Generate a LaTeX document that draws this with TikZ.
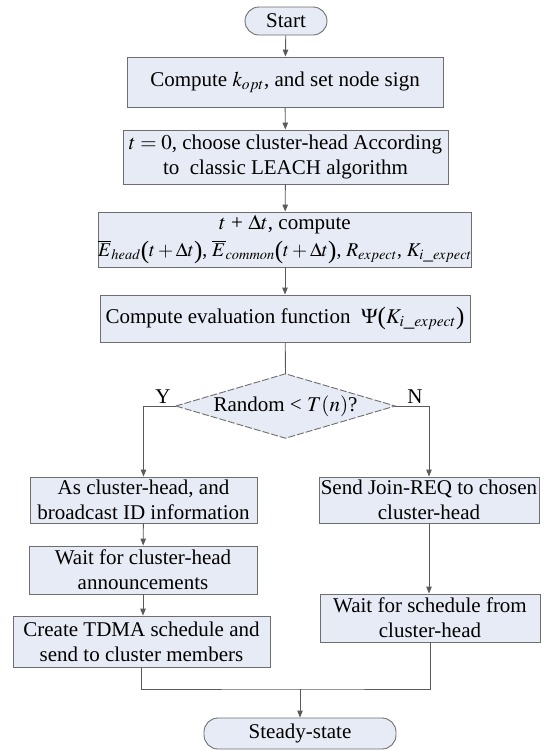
\documentclass[tikz,border=0pt]{standalone}
\usepackage{mathptmx}
\usepackage[no-math]{fontspec}
\setmainfont{Liberation Serif}
\usetikzlibrary{arrows.meta,backgrounds}

\definecolor{boxfill}{HTML}{E7EBF5}
\definecolor{boxedge}{HTML}{6E6E6E}
\definecolor{linecol}{HTML}{5A5A5A}

% taller parentheses taken from the text font
\newcommand{\tallL}{\mbox{\raisebox{-1.5pt}{\fontsize{25}{25}\selectfont(}}}
\newcommand{\tallR}{\mbox{\raisebox{-1.5pt}{\fontsize{25}{25}\selectfont)}}}

\tikzset{
  procbox/.style={draw=boxedge, fill=boxfill, line width=0.9pt, inner sep=0pt,
    align=center, font=\fontsize{21}{25}\selectfont},
  termbox/.style={procbox, rounded corners=14pt},
  dectext/.style={inner sep=0pt, font=\fontsize{21}{25}\selectfont},
  decshape/.style={draw=boxedge, fill=boxfill, line width=0.9pt, dash pattern=on 7pt off 2pt},
  flow/.style={draw=linecol, line width=0.9pt},
  flowarrow/.style={flow, -{Triangle[length=7pt,width=5.5pt]}},
  branchlabel/.style={font=\fontsize{21}{25}\selectfont, inner sep=0pt}
}

\begin{document}
\begin{tikzpicture}[x=1pt, y=-1pt]
  \useasboundingbox (0,0) rectangle (547,750);

  % main column
  \node[termbox, minimum width=82pt, minimum height=28pt] (start) at (286,21) {Start};
  \node[procbox, minimum width=316pt, minimum height=50pt] (kopt) at (285,82)
    {Compute $k_{opt}$, and set node sign};
  \node[procbox, minimum width=325pt, minimum height=54pt] (init) at (285.5,157)
    {$t = 0$, choose cluster-head According\\to~ classic LEACH algorithm};
  \node[procbox, minimum width=370pt, minimum height=55pt] (energy) at (285,239.5)
    {$t$ + $\Delta t$, compute\\[2pt]
     {\fontsize{19.5}{25}\selectfont$\overline{E}_{head}\tallL t+\Delta t\tallR$, $\overline{E}_{common}\tallL t+\Delta t\tallR$, $R_{expect}$, $K_{i\_expect}$}};
  \node[procbox, minimum width=370pt, minimum height=47pt] (eval) at (285,318.5)
    {Compute evaluation function~ $\Psi\tallL K_{i\_expect}\tallR$};

  % decision
  \node[dectext, minimum width=219pt, minimum height=64pt] (dec) at (285.5,406)
    {Random < $T(n)$?};
  \begin{scope}[on background layer]
    \draw[decshape] (dec.west) -- (dec.north) -- (dec.east) -- (dec.south) -- cycle;
  \end{scope}

  % cluster-head branch
  \node[procbox, minimum width=227pt, minimum height=46pt] (ch1) at (143.5,500)
    {As cluster-head, and\\broadcast ID information};
  \node[procbox, minimum width=228pt, minimum height=48pt] (ch2) at (143,570)
    {Wait for cluster-head\\announcements};
  \node[procbox, minimum width=257pt, minimum height=51pt] (ch3) at (141.5,641.5)
    {Create TDMA schedule and\\send to cluster members};

  % member branch
  \node[procbox, minimum width=220pt, minimum height=46pt] (m1) at (429,500)
    {Send Join-REQ to chosen\\cluster-head};
  \node[procbox, minimum width=220pt, minimum height=48pt] (m2) at (430,618)
    {Wait for schedule from\\cluster-head};

  \node[termbox, minimum width=192pt, minimum height=31pt] (steady) at (300,733.5)
    {Steady-state};

  % branch labels
  \node[branchlabel] (ylab) at (163,397) {Y};
  \node[branchlabel] (nlab) at (415,397) {N};

  % connectors
  \draw[flowarrow] (start) -- (kopt);
  \draw[flowarrow] (kopt) -- (init);
  \draw[flowarrow] (init) -- (energy);
  \draw[flowarrow] (energy) -- (eval);
  \draw[flow] (eval) -- (dec.north);
  \draw[flowarrow] (dec.west) -| (ch1.north);
  \draw[flowarrow] (dec.east) -| (m1.north);
  \draw[flowarrow] (ch1) -- (ch2);
  \draw[flowarrow] (ch2.south) -- (ch2.south |- ch3.north);
  \draw[flowarrow] (m1.south) -- (m1.south |- m2.north);
  \coordinate (merge) at (300,689);
  \draw[flow] (ch3.south) |- (merge) -| (m2.south);
  \draw[flowarrow] (merge) -- (steady.north);
\end{tikzpicture}
\end{document}
